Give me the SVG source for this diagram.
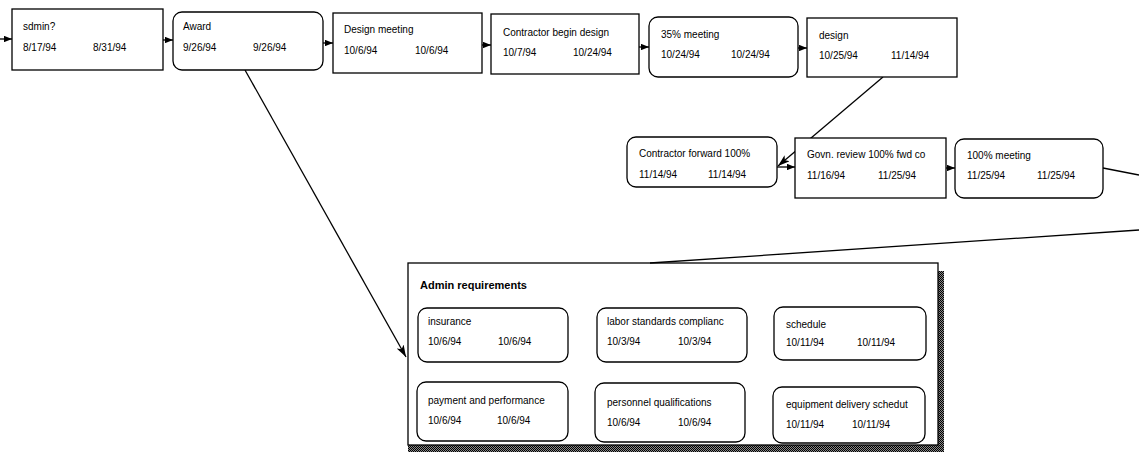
<svg xmlns="http://www.w3.org/2000/svg" width="1139" height="456" viewBox="0 0 1139 456">
<defs>
<style>
.box{fill:#fff;stroke:#000;stroke-width:1.3}
.t{font-family:"Liberation Sans",Arial,sans-serif;font-size:10px;fill:#000}
.h{font-family:"Liberation Sans",Arial,sans-serif;font-size:11px;font-weight:bold;fill:#000}
.c{fill:none;stroke:#000;stroke-width:1.3}
</style>
<marker id="ah" viewBox="0 0 10 8" refX="10" refY="4" markerWidth="8" markerHeight="6.4" markerUnits="userSpaceOnUse" orient="auto">
<path d="M0,0 L10,4 L0,8 Z" fill="#000"/>
</marker>
<marker id="av" viewBox="0 0 12 8" refX="12" refY="4" markerWidth="12" markerHeight="8" markerUnits="userSpaceOnUse" orient="auto">
<path d="M0,0 L12,4 L0,8 L3,4 Z" fill="#000"/>
</marker>
<pattern id="chk" width="2" height="2" patternUnits="userSpaceOnUse">
<rect width="2" height="2" fill="#888"/>
<rect width="1" height="1" fill="#000"/>
<rect x="1" y="1" width="1" height="1" fill="#000"/>
</pattern>
</defs>
<rect width="1139" height="456" fill="#fff"/>

<g id="admin-requirements">
<rect x="938" y="271" width="6" height="181" fill="url(#chk)"/>
<rect x="408" y="445" width="536" height="7" fill="url(#chk)"/>
<rect class="box" x="408" y="263" width="530" height="182"/>
<text class="h" x="420" y="289">Admin requirements</text>
</g>

<g id="connectors">
<line class="c" x1="0" y1="39" x2="12" y2="39" marker-end="url(#ah)"/>
<line class="c" x1="163" y1="40" x2="173" y2="40" marker-end="url(#ah)"/>
<line class="c" x1="323" y1="43" x2="333" y2="43" marker-end="url(#ah)"/>
<line class="c" x1="482" y1="45" x2="491" y2="45" marker-end="url(#ah)"/>
<line class="c" x1="639" y1="47" x2="649" y2="47" marker-end="url(#ah)"/>
<line class="c" x1="798" y1="48" x2="807" y2="48" marker-end="url(#ah)"/>
<line class="c" x1="883" y1="77" x2="778" y2="166" marker-end="url(#av)"/>
<line class="c" x1="777" y1="167" x2="795" y2="167" marker-end="url(#ah)"/>
<line class="c" x1="946" y1="168" x2="955" y2="168" marker-end="url(#ah)"/>
<line class="c" x1="1103" y1="168" x2="1139" y2="175"/>
<line class="c" x1="1139" y1="230" x2="650" y2="263"/>
<line class="c" x1="245" y1="70" x2="406" y2="357" marker-end="url(#av)"/>
</g>

<g id="n-sdmin">
<rect class="box" x="12" y="9" width="151" height="61"/>
<text class="t" x="23" y="30">sdmin?</text>
<text class="t" x="23" y="51">8/17/94</text>
<text class="t" x="93" y="51">8/31/94</text>
</g>
<g id="n-award">
<rect class="box" x="173" y="12" width="150" height="58" rx="9"/>
<text class="t" x="183" y="30">Award</text>
<text class="t" x="183" y="51">9/26/94</text>
<text class="t" x="253" y="51">9/26/94</text>
</g>
<g id="n-design-meeting">
<rect class="box" x="333" y="13" width="149" height="60"/>
<text class="t" x="344" y="33">Design meeting</text>
<text class="t" x="344" y="54">10/6/94</text>
<text class="t" x="415" y="54">10/6/94</text>
</g>
<g id="n-contractor-begin">
<rect class="box" x="491" y="14" width="148" height="60"/>
<text class="t" x="503" y="36">Contractor begin design</text>
<text class="t" x="503" y="56">10/7/94</text>
<text class="t" x="573" y="56">10/24/94</text>
</g>
<g id="n-35-meeting">
<rect class="box" x="649" y="17" width="149" height="60" rx="9"/>
<text class="t" x="661" y="38">35% meeting</text>
<text class="t" x="661" y="58">10/24/94</text>
<text class="t" x="731" y="58">10/24/94</text>
</g>
<g id="n-design">
<rect class="box" x="807" y="18" width="150" height="59"/>
<text class="t" x="819" y="39">design</text>
<text class="t" x="819" y="59">10/25/94</text>
<text class="t" x="891" y="59">11/14/94</text>
</g>
<g id="n-contractor-forward">
<rect class="box" x="627" y="137" width="150" height="50" rx="9"/>
<text class="t" x="639" y="157">Contractor forward 100%</text>
<text class="t" x="639" y="178">11/14/94</text>
<text class="t" x="708" y="178">11/14/94</text>
</g>
<g id="n-govn-review">
<rect class="box" x="795" y="138" width="151" height="60"/>
<text class="t" x="807" y="158">Govn. review 100% fwd co</text>
<text class="t" x="807" y="179">11/16/94</text>
<text class="t" x="878" y="179">11/25/94</text>
</g>
<g id="n-100-meeting">
<rect class="box" x="955" y="139" width="148" height="59" rx="9"/>
<text class="t" x="967" y="159">100% meeting</text>
<text class="t" x="967" y="179">11/25/94</text>
<text class="t" x="1037" y="179">11/25/94</text>
</g>

<g id="n-insurance">
<rect class="box" x="418" y="308" width="150" height="54" rx="9"/>
<text class="t" x="428" y="325">insurance</text>
<text class="t" x="428" y="345">10/6/94</text>
<text class="t" x="498" y="345">10/6/94</text>
</g>
<g id="n-labor">
<rect class="box" x="597" y="308" width="150" height="54" rx="9"/>
<text class="t" x="607" y="325">labor standards complianc</text>
<text class="t" x="607" y="345">10/3/94</text>
<text class="t" x="678" y="345">10/3/94</text>
</g>
<g id="n-schedule">
<rect class="box" x="774" y="307" width="152" height="53" rx="9"/>
<text class="t" x="786" y="328">schedule</text>
<text class="t" x="786" y="346">10/11/94</text>
<text class="t" x="857" y="346">10/11/94</text>
</g>
<g id="n-payment">
<rect class="box" x="417" y="382" width="151" height="59" rx="9"/>
<text class="t" x="428" y="404">payment and performance</text>
<text class="t" x="428" y="424">10/6/94</text>
<text class="t" x="497" y="424">10/6/94</text>
</g>
<g id="n-personnel">
<rect class="box" x="595" y="383" width="150" height="59" rx="9"/>
<text class="t" x="607" y="406">personnel qualifications</text>
<text class="t" x="607" y="426">10/6/94</text>
<text class="t" x="678" y="426">10/6/94</text>
</g>
<g id="n-equipment">
<rect class="box" x="773" y="387" width="152" height="56" rx="9"/>
<text class="t" x="786" y="408">equipment delivery schedut</text>
<text class="t" x="786" y="428">10/11/94</text>
<text class="t" x="852" y="428">10/11/94</text>
</g>
</svg>
